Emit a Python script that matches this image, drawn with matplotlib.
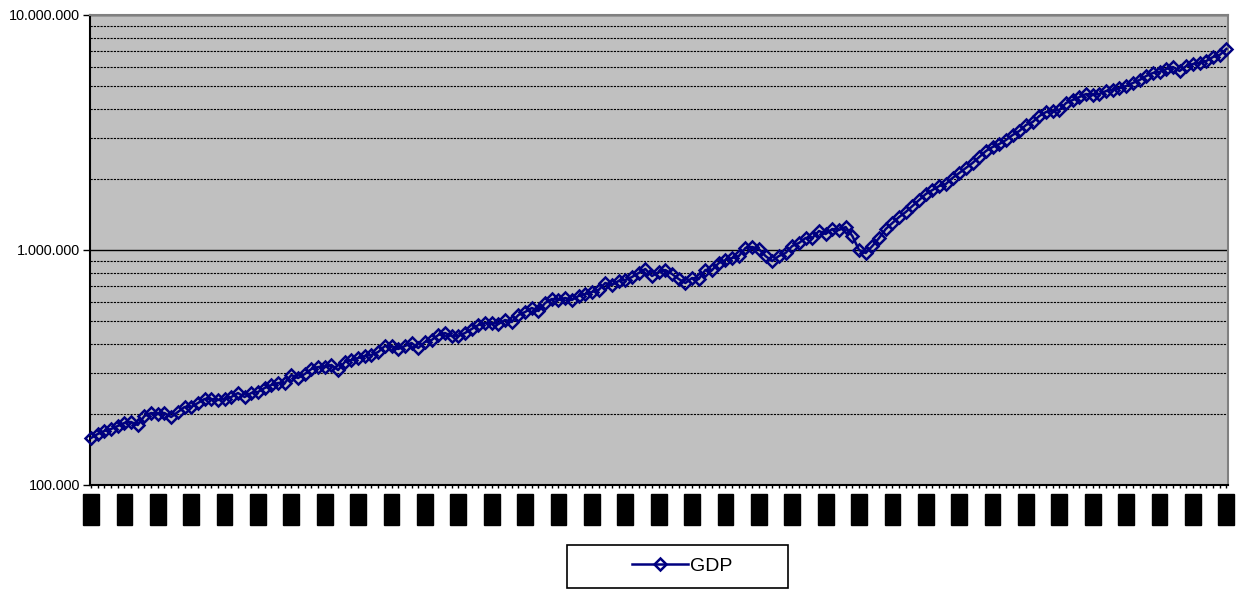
import numpy as np
import matplotlib.pyplot as plt
from matplotlib.ticker import FixedLocator, FuncFormatter, NullFormatter, LogLocator
from matplotlib.patches import Rectangle

plt.rcParams['font.family'] = ['Liberation Sans', 'DejaVu Sans']

# GDP per quarter, in thousands
gdp_k = [
    158.5, 164.8, 169.8, 173.1, 178.3, 183.6, 185.4, 180.0, 196.6, 202.5,
    200.5, 202.5, 194.7, 204.5, 214.7, 214.7, 223.4, 232.2, 232.2, 230.0,
    232.2, 236.8, 246.3, 236.8, 246.3, 248.8, 258.7, 266.4, 271.7, 271.7,
    293.8, 285.3, 296.7, 311.6, 317.8, 317.8, 324.1, 308.6, 333.8, 340.4,
    347.1, 354.0, 357.4, 368.1, 390.4, 390.4, 379.1, 390.4, 402.0, 382.8,
    406.0, 414.0, 434.8, 443.4, 430.6, 430.6, 443.4, 461.2, 479.6, 489.1,
    489.1, 484.3, 503.7, 493.9, 529.0, 544.7, 566.5, 550.1, 595.0, 618.8,
    612.7, 624.9, 612.7, 637.2, 649.8, 662.7, 675.8, 723.7, 709.6, 738.0,
    745.3, 767.5, 798.2, 830.0, 775.0, 806.0, 822.0, 790.4, 752.6, 723.7,
    760.0, 752.6, 822.0, 822.0, 880.3, 906.6, 924.5, 942.8, 1019.8, 1029.8,
    1009.8, 942.8, 897.7, 942.8, 971.0, 1039.9, 1071.0, 1124.8, 1124.8, 1204.7,
    1169.8, 1228.6, 1216.6, 1252.9, 1147.1, 1000.0, 971.0, 1039.9, 1124.8, 1228.6,
    1302.9, 1381.8, 1451.1, 1538.9, 1632.1, 1730.9, 1800.1, 1872.3, 1909.4, 2025.0,
    2126.6, 2233.4, 2345.6, 2487.4, 2637.8, 2743.3, 2825.1, 2938.3, 3085.8, 3209.2,
    3403.5, 3504.9, 3717.0, 3865.6, 3903.7, 3942.2, 4222.3, 4348.1, 4477.8, 4611.5,
    4566.5, 4611.5, 4749.0, 4795.8, 4890.9, 4987.7, 5136.4, 5289.6, 5501.1, 5665.1,
    5720.9, 5891.6, 6008.3, 5777.2, 6067.5, 6187.6, 6248.6, 6372.3, 6627.0, 6758.2,
    7167.7,
]
gdp = np.array(gdp_k) * 1000

# category labels (they show up as solid black blocks in the original)
quarters = [str(1960 + i // 4) for i in range(len(gdp))]
label_every = 5

fig = plt.figure(figsize=(12.36, 5.9), dpi=100)
ax = fig.add_axes([0.07282, 0.17797, 0.92071, 0.79661])
ax.set_facecolor('#C0C0C0')

x = np.arange(len(gdp))
ax.plot(x, gdp, color='#000080', lw=1.8, marker='D', ms=6.5, mfc='none',
        mew=1.8, label='GDP', clip_on=False, zorder=3)

ax.set_yscale('log')
ax.set_ylim(1e5, 1e7)
ax.set_xlim(-0.15, len(gdp) - 1 + 0.25)

ax.yaxis.set_major_locator(FixedLocator([1e5, 1e6, 1e7]))
ax.yaxis.set_minor_locator(LogLocator(base=10, subs=range(2, 10)))
ax.yaxis.set_major_formatter(FuncFormatter(lambda v, p: f"{int(round(v)):,}".replace(',', '.')))
ax.yaxis.set_minor_formatter(NullFormatter())
ax.tick_params(axis='y', which='major', length=5, width=1, pad=2, labelsize=10.4)
ax.tick_params(axis='y', which='minor', length=0)
ax.grid(True, axis='y', which='major', color='black', lw=1, ls='-')
ax.grid(True, axis='y', which='minor', color='black', lw=0.8, ls=(0, (2, 1)))
ax.set_axisbelow(True)

ax.set_xticks(x[::label_every])
ax.set_xticklabels([quarters[i] for i in x[::label_every]], rotation=90, fontsize=9)
ax.set_xticks(x, minor=True)
ax.tick_params(axis='x', which='both', length=2.5, width=1, direction='out', pad=5)
for t in ax.get_xticklabels():
    t.set_bbox(dict(facecolor='black', edgecolor='black', boxstyle='square,pad=0.15'))

for side in ['left', 'bottom']:
    ax.spines[side].set_color('black')
    ax.spines[side].set_linewidth(1.5)
for side in ['top', 'right']:
    ax.spines[side].set_color('#808080')
    ax.spines[side].set_linewidth(1.5)

fig.legend(loc='center', bbox_to_anchor=(0.5518, 0.0407), frameon=False,
           fontsize=14, handlelength=2.9, handletextpad=0.1)
fig.add_artist(Rectangle((0.4587, 0.0034), 0.1788, 0.0729, transform=fig.transFigure,
                         fill=False, ec='black', lw=1.2))

fig.savefig('out.png', dpi=100)
